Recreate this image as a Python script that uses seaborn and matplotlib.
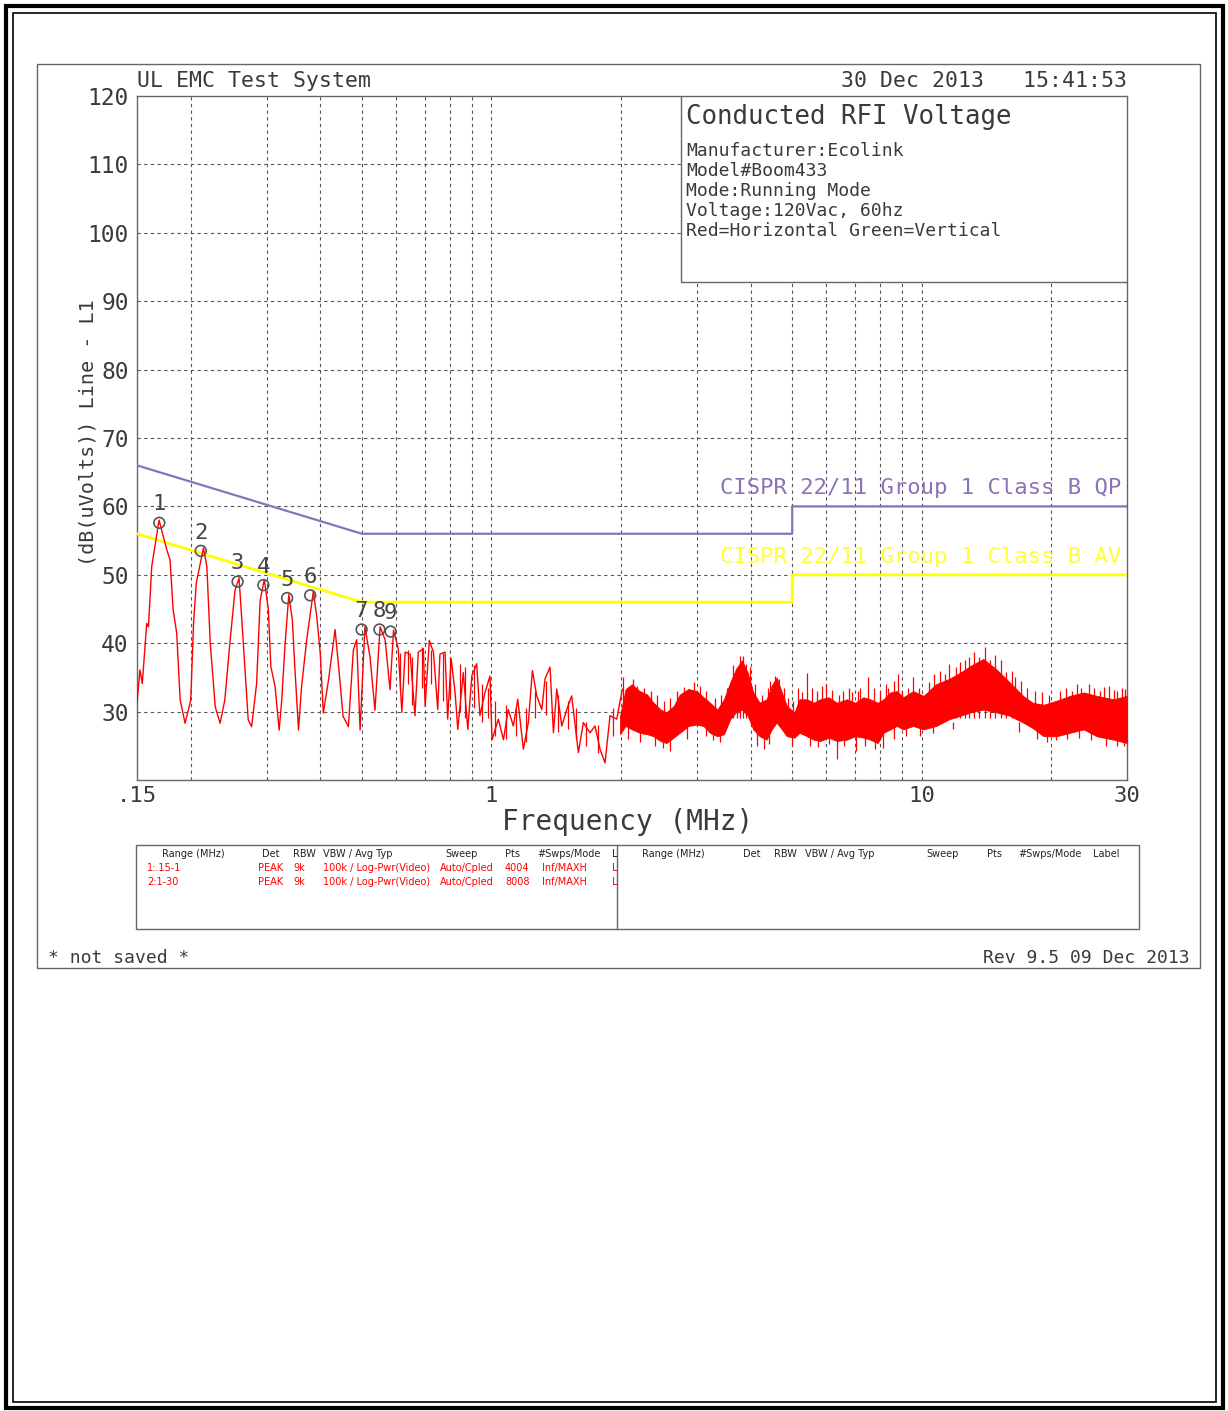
import matplotlib
matplotlib.use("Agg")
import matplotlib.pyplot as plt
from matplotlib.patches import Rectangle
from matplotlib.ticker import FixedLocator, FixedFormatter, NullFormatter
import pandas as pd
import seaborn as sns

# ---------------- data ----------------
# red trace, 0.15 - 2 MHz (MHz, dBuV)
trace_freq = [0.150, 0.1524, 0.1543, 0.158, 0.1595, 0.1623, 0.1688, 0.1758, 0.179, 0.182,
              0.1855, 0.189, 0.194, 0.200, 0.203, 0.206, 0.214, 0.218, 0.222, 0.228,
              0.234, 0.240, 0.247, 0.2535, 0.259, 0.265, 0.272, 0.277, 0.2845, 0.290,
              0.2965, 0.303, 0.307, 0.314, 0.321, 0.3255, 0.331, 0.338, 0.3445, 0.349,
              0.356, 0.362, 0.372, 0.3855, 0.3925, 0.400, 0.4066, 0.418, 0.433, 0.442,
              0.452, 0.465, 0.4775, 0.486, 0.495, 0.508, 0.522, 0.536, 0.551, 0.566,
              0.581, 0.592, 0.607, 0.619, 0.630, 0.647, 0.664, 0.676, 0.6945, 0.701,
              0.717, 0.733, 0.750, 0.759, 0.780, 0.791, 0.806, 0.823, 0.835, 0.860,
              0.881, 0.900, 0.924, 0.940, 0.966, 0.992, 1.003, 1.0375, 1.066, 1.094,
              1.124, 1.151, 1.186, 1.218, 1.245, 1.274, 1.309, 1.332, 1.368, 1.393,
              1.418, 1.457, 1.496, 1.536, 1.592, 1.635, 1.695, 1.740, 1.788, 1.836,
              1.886, 1.955, 2.015]
trace_level = [31.2, 36.1, 34.1, 42.9, 42.4, 51.2, 58.0, 53.7, 52.2, 44.9,
               41.5, 31.7, 28.3, 31.7, 42.9, 48.8, 53.9, 51.2, 40.0, 30.7,
               28.3, 31.7, 40.5, 47.8, 49.5, 40.0, 28.8, 27.8, 34.1, 46.3,
               49.3, 44.9, 36.6, 33.7, 27.3, 31.7, 39.5, 47.1, 43.4, 36.6,
               27.3, 33.7, 40.5, 47.6, 43.9, 38.5, 29.8, 34.6, 42.0, 36.1,
               29.3, 27.8, 39.0, 40.5, 27.3, 42.4, 38.0, 30.2, 42.4, 40.5,
               33.2, 41.9, 39.2, 29.9, 38.7, 38.4, 29.4, 38.7, 39.2, 30.8,
               40.4, 38.7, 30.3, 38.4, 38.7, 28.9, 37.7, 32.8, 27.4, 35.7,
               27.4, 35.2, 37.0, 29.4, 32.8, 35.2, 25.9, 28.9, 25.9, 30.3,
               27.9, 31.8, 24.5, 28.4, 36.0, 32.3, 30.3, 34.8, 36.5, 26.9,
               33.3, 27.9, 30.3, 32.3, 24.0, 28.4, 26.9, 27.9, 24.5, 22.5,
               29.4, 28.9, 33.3]

# short noise strokes on the 0.6 - 2 MHz trace (MHz, low dB, high dB)
stroke_freq = [0.612, 0.64, 0.655, 0.69, 0.725, 0.77, 0.80, 0.845, 0.87, 0.91,
               0.95, 0.98, 1.02, 1.08, 1.14, 1.20, 1.26, 1.34, 1.43, 1.51,
               1.57, 1.66, 1.77, 1.92]
stroke_low = [33.0, 34.0, 31.0, 33.5, 34.0, 31.5, 32.0, 30.0, 29.0, 30.5,
              28.5, 29.0, 26.5, 26.0, 26.5, 25.5, 29.0, 29.5, 27.0, 27.5,
              26.0, 25.0, 24.0, 26.5]
stroke_high = [38.5, 39.0, 38.0, 39.5, 39.0, 38.5, 38.0, 37.0, 36.5, 36.8,
               34.0, 33.5, 31.5, 31.0, 30.5, 30.5, 33.0, 34.5, 32.5, 31.5,
               30.5, 28.5, 28.0, 30.5]

# dense noise band, 2 - 30 MHz: envelope
band_freq = [1.99, 2.05, 2.12, 2.21, 2.30, 2.38, 2.47, 2.55, 2.65, 2.74,
             2.87, 3.00, 3.11, 3.22, 3.35, 3.47, 3.59, 3.70, 3.82, 3.94,
             4.06, 4.20, 4.36, 4.48, 4.60, 4.73, 4.86, 5.06, 5.20, 5.41,
             5.61, 5.81, 6.08, 6.35, 6.70, 7.00, 7.32, 7.59, 7.90, 8.15,
             8.45, 8.75, 9.06, 9.55, 10.1, 10.8, 11.6, 12.3, 13.0, 13.9,
             14.9, 16.0, 17.2, 18.1, 19.2, 20.6, 22.1, 23.8, 25.5, 27.9, 30.0]
band_upper = [29.4, 33.3, 34.0, 33.0, 32.5, 31.3, 30.3, 29.9, 30.8, 32.5,
              33.3, 33.0, 32.1, 31.3, 30.3, 31.8, 34.3, 36.2, 37.5, 35.7,
              32.8, 31.3, 31.8, 33.8, 35.0, 32.8, 30.8, 29.9, 31.8, 31.8,
              31.3, 31.8, 32.1, 31.3, 31.8, 31.3, 32.1, 31.8, 31.3, 31.8,
              32.8, 33.0, 32.1, 33.0, 32.3, 34.0, 34.8, 35.7, 36.7, 37.7,
              36.2, 34.3, 32.3, 31.3, 31.0, 31.6, 32.3, 32.8, 32.3, 31.8, 32.3]
band_lower = [26.7, 27.9, 27.4, 26.9, 26.7, 26.4, 25.7, 25.4, 26.2, 26.9,
              27.9, 28.1, 27.9, 26.9, 26.4, 26.7, 28.9, 29.9, 30.3, 29.4,
              27.4, 26.4, 25.9, 27.4, 28.4, 27.4, 26.4, 26.2, 26.9, 26.4,
              25.9, 25.7, 26.2, 25.7, 25.9, 26.4, 26.2, 25.9, 25.4, 26.9,
              27.4, 27.9, 27.4, 27.9, 27.4, 27.9, 28.9, 29.4, 29.9, 30.3,
              29.9, 29.4, 28.4, 27.6, 26.4, 26.4, 26.9, 27.4, 26.4, 25.9, 25.4]

# isolated spikes above / below the band
spike_freq = [2.02, 2.08, 2.13, 2.18, 2.26, 2.35, 2.43, 2.52, 2.60, 2.70,
              2.80, 2.90, 2.95, 3.06, 3.16, 3.30, 3.42, 3.52, 3.65, 3.72,
              3.78, 3.85, 3.90, 3.98, 4.10, 4.25, 4.40, 4.45, 4.55, 4.65,
              4.78, 4.90, 5.03, 5.15, 5.28, 5.41, 5.55, 5.70, 5.88, 6.00,
              6.20, 6.42, 6.55, 6.78, 6.90, 7.10, 7.20, 7.50, 7.75, 8.00,
              8.25, 8.35, 8.60, 8.80, 9.00, 9.30, 9.55, 9.85, 10.4, 10.7,
              11.0, 11.3, 11.6, 12.0, 12.3, 12.6, 12.9, 13.2, 13.6, 14.0,
              14.4, 14.8, 15.3, 15.7, 16.2, 16.5, 17.0, 17.6, 18.3, 19.0,
              19.8, 21.0, 21.6, 22.4, 22.9, 23.5, 24.5, 25.2, 26.0, 26.5,
              27.3, 28.0, 28.5, 29.2, 29.7]
spike_level = [35.0, 33.5, 34.8, 33.8, 33.5, 33.0, 32.5, 31.5, 32.0, 33.0,
               33.6, 33.0, 34.3, 33.8, 33.0, 32.0, 32.5, 33.4, 36.8, 36.5,
               38.2, 38.1, 37.0, 36.5, 34.0, 32.5, 33.5, 34.5, 35.2, 34.8,
               33.5, 32.0, 31.5, 33.5, 32.8, 35.7, 33.5, 33.0, 33.8, 34.0,
               33.2, 32.5, 33.0, 33.5, 32.9, 33.0, 33.5, 35.0, 33.5, 33.0,
               34.0, 33.5, 34.5, 35.5, 33.0, 33.5, 35.0, 33.5, 34.3, 35.5,
               36.0, 35.5, 37.0, 36.5, 37.2, 37.5, 38.0, 38.7, 38.0, 39.4,
               37.5, 38.3, 37.5, 35.8, 36.0, 35.0, 34.5, 33.5, 33.0, 32.8,
               32.5, 33.0, 33.5, 33.0, 34.0, 33.5, 34.0, 33.5, 33.0, 33.6,
               33.8, 33.2, 33.0, 33.5, 33.3]
dip_freq = [2.08, 2.22, 2.40, 2.50, 2.60, 2.85, 3.15, 3.28, 3.40, 4.15,
            4.30, 4.42, 5.00, 5.50, 5.75, 6.10, 6.35, 6.60, 7.05, 7.40,
            7.80, 8.15, 8.60, 9.20, 9.90, 10.6, 11.8, 16.8, 18.5, 19.5,
            20.5, 21.8, 23.2, 24.8, 26.8, 28.5, 29.5]
dip_level = [26.0, 25.5, 25.0, 24.7, 24.3, 26.0, 26.5, 25.8, 25.5, 25.0,
             24.5, 25.2, 25.0, 25.0, 24.8, 25.2, 23.0, 25.0, 24.2, 25.0,
             24.5, 24.7, 26.0, 26.5, 26.5, 26.8, 27.5, 27.0, 26.0, 25.5,
             25.8, 26.0, 26.2, 25.8, 25.0, 24.9, 25.0]

# CISPR 22 class B limits
limit_freq = [0.15, 0.5, 5.0, 5.0, 30.0]
qp_limit = [66, 56, 56, 60, 60]
av_limit = [56, 46, 46, 50, 50]

# peak markers
marker_freq = [0.169, 0.211, 0.257, 0.295, 0.335, 0.379, 0.499, 0.549, 0.583]
marker_level = [57.6, 53.5, 49.0, 48.5, 46.6, 47.0, 42.0, 42.0, 41.7]
marker_labels = ["1", "2", "3", "4", "5", "6", "7", "8", "9"]

y_ticks = [30, 40, 50, 60, 70, 80, 90, 100, 110, 120]
y_grid = [30, 40, 50, 60, 70, 80, 90, 100, 110]
x_ticks = [0.15, 1, 10, 30]
x_tick_labels = [".15", "1", "10", "30"]
x_minor = [0.2, 0.3, 0.4, 0.5, 0.6, 0.7, 0.8, 0.9, 2, 3, 4, 5, 6, 7, 8, 9, 20]

info_lines = ["Manufacturer:Ecolink", "Model#Boom433", "Mode:Running Mode",
              "Voltage:120Vac, 60hz", "Red=Horizontal Green=Vertical"]

tbl_header_left = ["Range (MHz)", "Det", "RBW", "VBW / Avg Typ", "Sweep", "Pts", "#Swps/Mode", "L"]
tbl_row1 = ["1:.15-1", "PEAK", "9k", "100k / Log-Pwr(Video)", "Auto/Cpled", "4004", "Inf/MAXH", "L"]
tbl_row2 = ["2:1-30", "PEAK", "9k", "100k / Log-Pwr(Video)", "Auto/Cpled", "8008", "Inf/MAXH", "L"]
tbl_header_right = ["Range (MHz)", "Det", "RBW", "VBW / Avg Typ", "Sweep", "Pts", "#Swps/Mode", "Label"]

# ---------------- style ----------------
sns.set_style("white")
plt.rcParams['font.family'] = ['DejaVu Sans Mono', 'DejaVu Sans']

W, H = 1228, 1411
fig = plt.figure(figsize=(W / 100, H / 100), dpi=100)
fig.patch.set_facecolor("white")


def fx(px):
    return px / W


def fy(py):
    return 1 - py / H


def frame(x0, y0, x1, y1, lw=1.0, color="#666666"):
    fig.patches.append(Rectangle((fx(x0), fy(y1)), fx(x1) - fx(x0), fy(y0) - fy(y1),
                                 transform=fig.transFigure, fill=False, lw=lw, ec=color))


TXT = "#3a3a3a"
GRID = "#555555"
QP_C = "#8c72b8"
AV_C = "#ffff00"
RED = "#ff0000"

ax = fig.add_axes([fx(137), fy(780), fx(1127) - fx(137), fy(96) - fy(780)])
ax.set_xscale("log")
ax.set_xlim(0.15, 30)
ax.set_ylim(20, 120)

# grid
ax.xaxis.set_major_locator(FixedLocator(x_ticks))
ax.xaxis.set_major_formatter(FixedFormatter(x_tick_labels))
ax.xaxis.set_minor_locator(FixedLocator(x_minor))
ax.xaxis.set_minor_formatter(NullFormatter())
ax.set_yticks(y_ticks)
ax.set_yticklabels([str(v) for v in y_ticks])
ax.grid(False)
for v in y_grid:
    ax.axhline(v, color=GRID, lw=0.8, ls=(0, (3, 3)), zorder=0.5)
for v in x_minor + [1, 10]:
    ax.axvline(v, color=GRID, lw=0.8, ls=(0, (3, 3)), zorder=0.5)
ax.tick_params(axis="both", which="both", length=0)
ax.tick_params(axis="y", labelsize=16.5, pad=6, labelcolor=TXT)
ax.tick_params(axis="x", labelsize=16, pad=4, labelcolor=TXT)
for s in ax.spines.values():
    s.set_color("#666666")
    s.set_linewidth(1.0)

# limit lines
lim_df = pd.DataFrame({"freq": limit_freq, "qp": qp_limit, "av": av_limit})
sns.lineplot(data=lim_df, x="freq", y="qp", sort=False, estimator=None, color=QP_C, lw=1.6, ax=ax, zorder=3)
sns.lineplot(data=lim_df, x="freq", y="av", sort=False, estimator=None, color=AV_C, lw=2.0, ax=ax, zorder=3)

# red trace
trace_df = pd.DataFrame({"freq": trace_freq, "level": trace_level})
sns.lineplot(data=trace_df, x="freq", y="level", sort=False, estimator=None, color=RED, lw=1.0, ax=ax, zorder=4)
ax.vlines(stroke_freq, stroke_low, stroke_high, color=RED, lw=0.9, zorder=4)
ax.fill_between(band_freq, band_lower, band_upper, color=RED, lw=0.6, zorder=4)
ax.vlines(spike_freq, 29.0, spike_level, color=RED, lw=0.9, zorder=4)
ax.vlines(dip_freq, 28.5, dip_level, color=RED, lw=0.9, zorder=4)

# markers
ax.scatter(marker_freq, marker_level, s=60, facecolors="none", edgecolors="#555555", lw=1.2, zorder=6)
for f, v, t in zip(marker_freq, marker_level, marker_labels):
    ax.annotate(t, (f, v), xytext=(0, 6), textcoords="offset points", ha="center", va="bottom",
                fontsize=16, color="#444444", zorder=7)

ax.set_xlabel("")
ax.set_ylabel("")

# info box
ax.add_patch(Rectangle(((681 - 137) / 990, (780 - 282) / 684), (1127 - 681) / 990, (282 - 96) / 684,
                       transform=ax.transAxes, facecolor="white", edgecolor="#666666", lw=1.0, zorder=5))
fig.text(fx(686), fy(117), "Conducted RFI Voltage", ha="left", va="center", fontsize=18.5, color=TXT)
for i, line in enumerate(info_lines):
    fig.text(fx(686), fy(151 + 20 * i), line, ha="left", va="center", fontsize=13, color=TXT)

# limit labels
fig.text(fx(1121), fy(488), "CISPR 22/11 Group 1 Class B QP", ha="right", va="center", fontsize=16, color=QP_C)
fig.text(fx(1121), fy(557), "CISPR 22/11 Group 1 Class B AV", ha="right", va="center", fontsize=16, color="#ffff33")

# headings and axis titles
fig.text(fx(137), fy(81), "UL EMC Test System", ha="left", va="center", fontsize=15.5, color=TXT)
fig.text(fx(1127), fy(81), "30 Dec 2013   15:41:53", ha="right", va="center", fontsize=15.5, color=TXT)
fig.text(fx(628), fy(822), "Frequency (MHz)", ha="center", va="center", fontsize=20, color=TXT)
fig.text(fx(88), fy(433), "(dB(uVolts)) Line - L1", ha="center", va="center", rotation=90, fontsize=14.5, color=TXT)

# settings table
frame(136, 845, 1139, 929, lw=1.0)
fig.lines.append(plt.Line2D([fx(617), fx(617)], [fy(845), fy(929)], transform=fig.transFigure,
                            color="#666666", lw=1.0))
tfam = ['DejaVu Sans Condensed', 'Liberation Sans Narrow', 'DejaVu Sans']
left_hdr_x = [162, 262, 293, 323, 445, 505, 537, 612]
left_row_x = [147, 258, 293, 323, 440, 505, 542, 612]
right_hdr_x = [642, 743, 774, 805, 926, 987, 1018, 1093]
TS = 7
for t, x in zip(tbl_header_left, left_hdr_x):
    fig.text(fx(x), fy(854), t, ha="left", va="center", fontsize=TS, color="#222222", family=tfam)
for t, x in zip(tbl_row1, left_row_x):
    fig.text(fx(x), fy(868), t, ha="left", va="center", fontsize=TS, color=RED, family=tfam)
for t, x in zip(tbl_row2, left_row_x):
    fig.text(fx(x), fy(882), t, ha="left", va="center", fontsize=TS, color=RED, family=tfam)
for t, x in zip(tbl_header_right, right_hdr_x):
    fig.text(fx(x), fy(854), t, ha="left", va="center", fontsize=TS, color="#222222", family=tfam)

# footer
fig.text(fx(48), fy(958), "* not saved *", ha="left", va="center", fontsize=13, color=TXT)
fig.text(fx(1190), fy(958), "Rev 9.5 09 Dec 2013", ha="right", va="center", fontsize=13, color=TXT)

# frames
frame(37, 64, 1200, 968, lw=1.0)
frame(6, 6, 1223, 1408, lw=3.0, color="black")
frame(13, 13, 1216, 1402, lw=1.2, color="black")

fig.savefig("out.png", dpi=100, facecolor="white")
